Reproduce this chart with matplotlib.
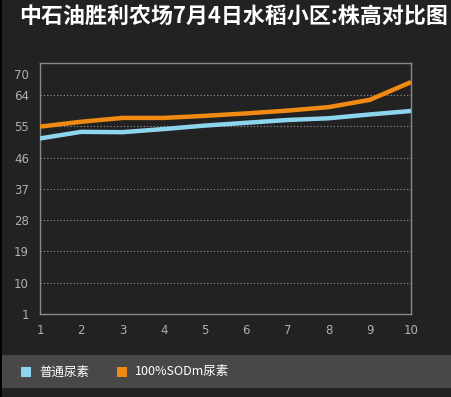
import matplotlib.pyplot as plt
from matplotlib.patches import Rectangle

plt.rcParams['font.family'] = ['Noto Sans CJK SC', 'DejaVu Sans']

TITLE = "中石油胜利农场7月4日水稻小区:株高对比图"
x_vals = [1, 2, 3, 4, 5, 6, 7, 8, 9, 10]
normal_urea = [51.5, 53.4, 53.3, 54.2, 55.2, 56.0, 56.8, 57.3, 58.4, 59.4]
sodm_urea = [54.9, 56.3, 57.4, 57.4, 58.0, 58.7, 59.5, 60.5, 62.6, 67.7]
y_ticks = [1, 10, 19, 28, 37, 46, 55, 64, 70]
series_names = ["普通尿素", "100%SODm尿素"]
colors = ['#8dd5ee', '#f08a12']

BG = '#222222'
W, H = 452, 397

fig = plt.figure(figsize=(W / 100, H / 100), dpi=100)
fig.patch.set_facecolor(BG)

# axes placed in pixel terms
left, right, top, bottom = 40, 411, 63, 314
ax = fig.add_axes([left / W, (H - bottom) / H, (right - left) / W, (bottom - top) / H])
ax.set_facecolor(BG)

ax.plot(x_vals, normal_urea, color=colors[0], lw=3.2, solid_capstyle='butt', zorder=3)
ax.plot(x_vals, sodm_urea, color=colors[1], lw=3.2, solid_capstyle='butt', zorder=3)

ax.set_xlim(1, 10)
ax.set_ylim(1, 73.2)
ax.set_yticks(y_ticks)
ax.set_xticks(x_vals)
for y in y_ticks[1:-1]:
    ax.axhline(y, color='#9a9a9a', lw=0.8, ls=(0, (1, 2)), zorder=1)

for s in ax.spines.values():
    s.set_color('#8a8a8a')
    s.set_linewidth(1)
ax.tick_params(length=0, colors='#b0b0b0', labelsize=8.5)
ax.tick_params(axis='y', pad=8)
ax.tick_params(axis='x', pad=7)
for lbl in ax.get_xticklabels():
    lbl.set_family('DejaVu Sans')
for lbl in ax.get_yticklabels():
    lbl.set_family('DejaVu Sans')

# title
fig.text(234 / W, 1 - 16 / H, TITLE, color='white', fontsize=15.8, fontweight='bold',
         ha='center', va='center')

# legend band
fig.patches.append(Rectangle((0, (H - 388) / H), 1, 33 / H, transform=fig.transFigure,
                             facecolor='#484848', edgecolor='none', zorder=0))
fig.patches.append(Rectangle((0, 0), 2 / W, 1, transform=fig.transFigure,
                             facecolor='black', edgecolor='none', zorder=0))

leg_x = [21, 117]
for i in range(2):
    fig.patches.append(Rectangle((leg_x[i] / W, (H - 377) / H), 10 / W, 10 / H,
                                 transform=fig.transFigure, facecolor=colors[i],
                                 edgecolor='none', zorder=1))
    fig.text((leg_x[i] + 18) / W, 1 - 372 / H, series_names[i], color='white',
             fontsize=9, ha='left', va='center')

fig.savefig('out.png', dpi=100, facecolor=BG)
